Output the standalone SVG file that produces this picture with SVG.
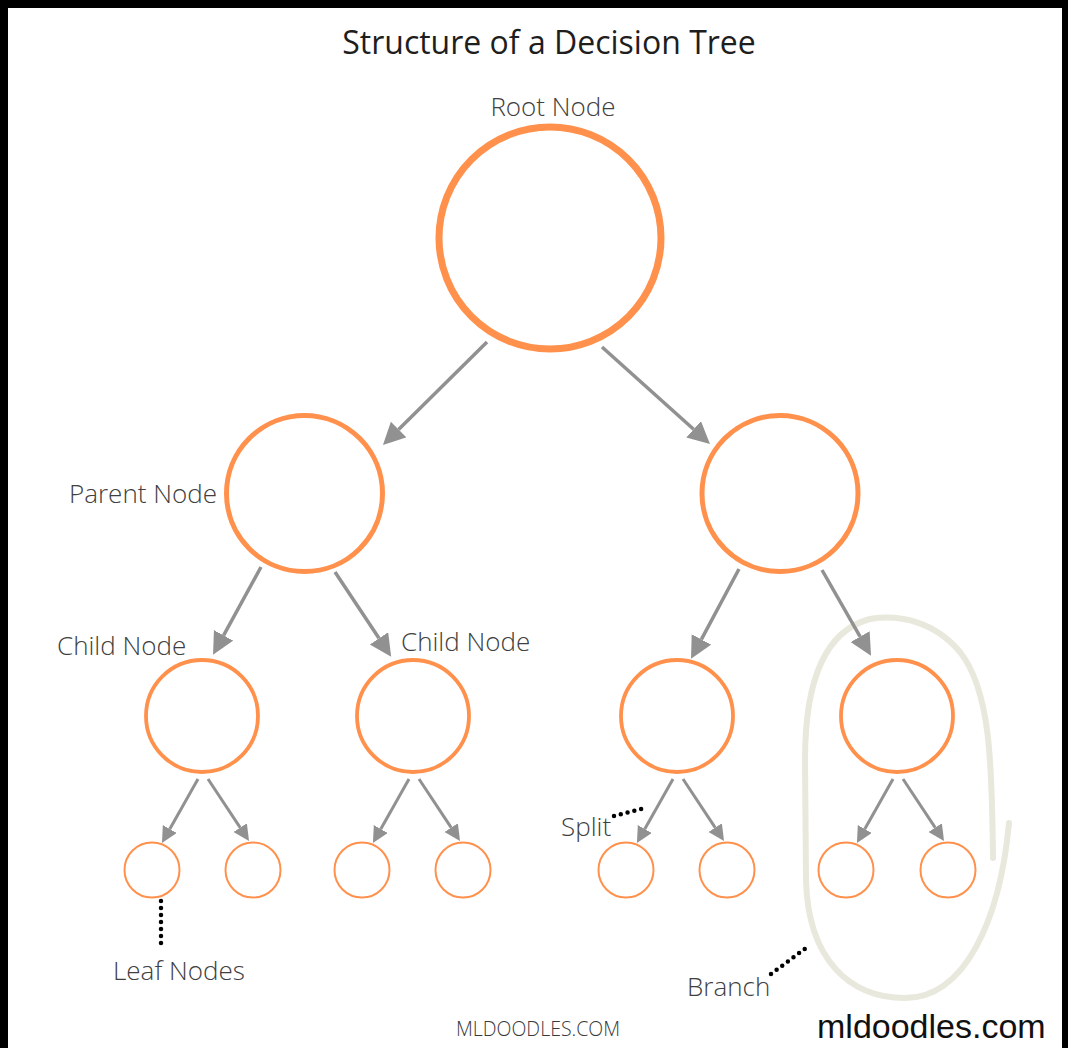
<svg xmlns="http://www.w3.org/2000/svg" width="1068" height="1048" viewBox="0 0 1068 1048">
<style>
.lbl{font-family:"Open Sans","DejaVu Sans",sans-serif;font-weight:300;font-size:26px;fill:#404040}
.title{font-family:"Open Sans","DejaVu Sans",sans-serif;font-weight:400;font-size:32px;fill:#1e1e1e}
.n1{fill:none;stroke:#ff914d;stroke-width:7}
.n2{fill:none;stroke:#ff914d;stroke-width:5}
.n3{fill:none;stroke:#ff914d;stroke-width:3.8}
.n4{fill:none;stroke:#ff914d;stroke-width:2}
.ar{stroke:#919191;stroke-width:3.5;fill:none}
.ars{stroke:#919191;stroke-width:3;fill:none}
.dots{stroke:#000;stroke-width:4.5;stroke-linecap:round;stroke-dasharray:0 7;fill:none}
</style>
<defs>
<marker id="ah" markerUnits="userSpaceOnUse" markerWidth="24" markerHeight="24" refX="0" refY="11" orient="auto">
<path d="M0,0 L22,11 L0,22 z" fill="#919191"/>
</marker>
<marker id="ahs" markerUnits="userSpaceOnUse" markerWidth="18" markerHeight="18" refX="0" refY="8" orient="auto">
<path d="M0,0 L16,8 L0,16 z" fill="#919191"/>
</marker>
</defs>
<rect x="0" y="0" width="1068" height="1048" fill="#fff"/>
<rect x="0" y="0" width="1068" height="8" fill="#000"/>
<rect x="0" y="0" width="8" height="1048" fill="#000"/>
<rect x="1062" y="0" width="6" height="1048" fill="#000"/>
<text class="title" x="549" y="54" text-anchor="middle">Structure of a Decision Tree</text>
<g id="branch-loop">
<path d="M993 858 C992 760 990 690 960 652 C935 622 900 614 870 619 C820 632 805 690 805 760 L806 880 C808 960 850 998 905 998 C965 998 1000 920 1009 823" fill="none" stroke="#e8e8dc" stroke-width="6" stroke-linecap="round"/>
</g>
<g id="connectors">
<line class="ar" x1="487" y1="342" x2="398.6" y2="429.5" marker-end="url(#ah)"/>
<line class="ar" x1="602" y1="347" x2="693.6" y2="429.3" marker-end="url(#ah)"/>
<line class="ar" x1="261" y1="567" x2="223.6" y2="635.4" marker-end="url(#ah)"/>
<line class="ar" x1="335" y1="572" x2="379" y2="638.3" marker-end="url(#ah)"/>
<line class="ar" x1="739" y1="569" x2="701.4" y2="639.4" marker-end="url(#ah)"/>
<line class="ar" x1="822" y1="570" x2="860.1" y2="636.6" marker-end="url(#ah)"/>
<line class="ars" x1="198" y1="779" x2="169.8" y2="829" marker-end="url(#ahs)"/>
<line class="ars" x1="208" y1="779" x2="240.2" y2="827.7" marker-end="url(#ahs)"/>
<line class="ars" x1="409" y1="779" x2="380.8" y2="829" marker-end="url(#ahs)"/>
<line class="ars" x1="419" y1="779" x2="451.2" y2="827.7" marker-end="url(#ahs)"/>
<line class="ars" x1="673" y1="779" x2="644.8" y2="829" marker-end="url(#ahs)"/>
<line class="ars" x1="683" y1="779" x2="715.2" y2="827.7" marker-end="url(#ahs)"/>
<line class="ars" x1="893" y1="779" x2="864.8" y2="829" marker-end="url(#ahs)"/>
<line class="ars" x1="903" y1="779" x2="935.2" y2="827.7" marker-end="url(#ahs)"/>
</g>
<g id="root"><circle class="n1" cx="550" cy="238" r="111"/><text class="lbl" x="553" y="116" text-anchor="middle">Root Node</text></g>
<g id="parent-left"><circle class="n2" cx="304.5" cy="493.5" r="78"/><text class="lbl" x="69" y="503">Parent Node</text></g>
<g id="parent-right"><circle class="n2" cx="780" cy="493.5" r="78"/></g>
<g id="child-1"><circle class="n3" cx="202" cy="716" r="56"/><text class="lbl" x="57" y="655">Child Node</text></g>
<g id="child-2"><circle class="n3" cx="413" cy="716" r="56"/><text class="lbl" x="401" y="651">Child Node</text></g>
<g id="child-3"><circle class="n3" cx="677" cy="716" r="56"/></g>
<g id="child-4"><circle class="n3" cx="897" cy="716" r="56"/></g>
<g id="leaf-1"><circle class="n4" cx="152" cy="870" r="27.5"/></g>
<g id="leaf-2"><circle class="n4" cx="253" cy="870" r="27.5"/></g>
<g id="leaf-3"><circle class="n4" cx="362" cy="870" r="27.5"/></g>
<g id="leaf-4"><circle class="n4" cx="463" cy="870" r="27.5"/></g>
<g id="leaf-5"><circle class="n4" cx="626" cy="870" r="27.5"/></g>
<g id="leaf-6"><circle class="n4" cx="727" cy="870" r="27.5"/></g>
<g id="leaf-7"><circle class="n4" cx="846" cy="870" r="27.5"/></g>
<g id="leaf-8"><circle class="n4" cx="948" cy="870" r="27.5"/></g>
<g id="annotations">
<path class="dots" d="M614 816 L645 808"/>
<text class="lbl" x="561" y="836">Split</text>
<path class="dots" d="M161 901 L161 950"/>
<text class="lbl" x="113" y="980">Leaf Nodes</text>
<path class="dots" d="M771 974 L810 945"/>
<text class="lbl" x="687" y="996">Branch</text>
</g>
<text x="538" y="1036" text-anchor="middle" style="font-family:'Open Sans','DejaVu Sans',sans-serif;font-weight:300;font-size:19.5px;fill:#3a3a3a">MLDOODLES.COM</text>
<text x="817" y="1038" style="font-family:'Liberation Sans',Arial,sans-serif;font-size:34px;fill:#111">mldoodles.com</text>
</svg>
